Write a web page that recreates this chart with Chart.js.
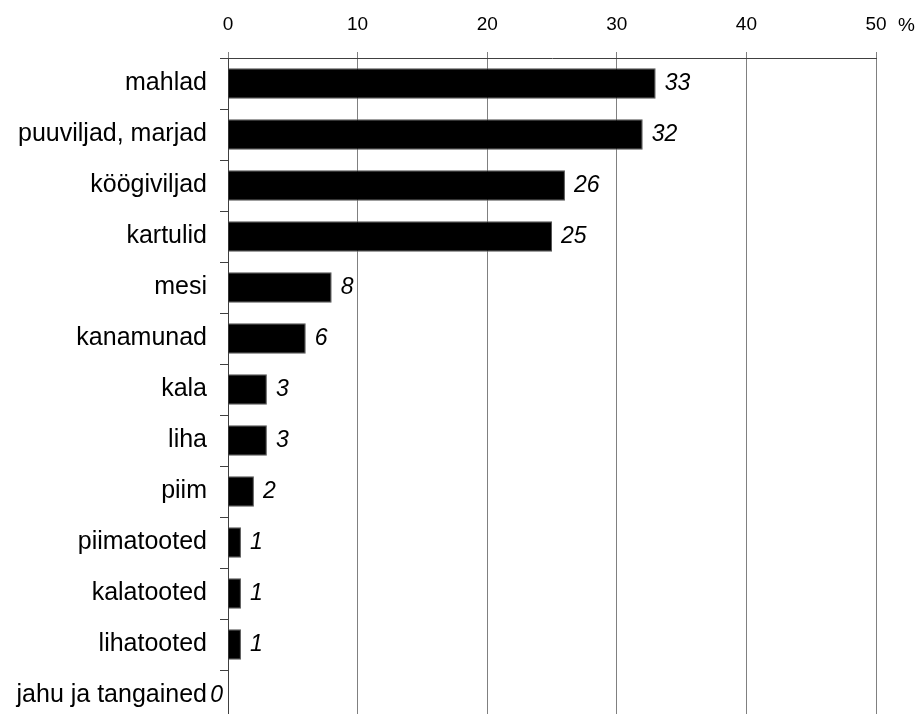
<!DOCTYPE html>
<html>
<head>
<meta charset="utf-8">
<script src="https://cdn.jsdelivr.net/npm/chart.js@4"></script>
<style>
  html, body { margin: 0; padding: 0; background: #fff; overflow: hidden; }
  canvas { display: block; }
</style>
</head>
<body>
<canvas id="myChart" width="920" height="730"></canvas>
<script>
// kategooriad ja väärtused (%)
const categories = ['mahlad', 'puuviljad, marjad', 'köögiviljad', 'kartulid', 'mesi', 'kanamunad', 'kala', 'liha', 'piim', 'piimatooted', 'kalatooted', 'lihatooted', 'jahu ja tangained'];
const values = [33, 32, 26, 25, 8, 6, 3, 3, 2, 1, 1, 1, 0];
const xTicks = [0, 10, 20, 30, 40, 50];

const FONT = 'Arial, "Liberation Sans", sans-serif';

// väärtuste sildid + "%" telje lõppu
const labelPlugin = {
    id: 'labelPlugin',
    afterDatasetsDraw(chart) {
        const ctx = chart.ctx;
        const meta = chart.getDatasetMeta(0);
        ctx.save();
        ctx.fillStyle = '#000';
        ctx.font = 'italic 23px ' + FONT;
        ctx.textBaseline = 'middle';
        meta.data.forEach(function (bar, i) {
            const v = values[i];
            if (v === 0) {
                ctx.textAlign = 'right';
                ctx.fillText(String(v), bar.x - 5, bar.y);
            } else {
                ctx.textAlign = 'left';
                ctx.fillText(String(v), bar.x + 9, bar.y);
            }
        });
        // protsendimärk
        const xs = chart.scales.x;
        ctx.font = '19px ' + FONT;
        ctx.textAlign = 'left';
        ctx.textBaseline = 'alphabetic';
        ctx.fillText('%', xs.getPixelForValue(50) + 22, 31);
        ctx.restore();
    }
};

const ctx = document.getElementById('myChart').getContext('2d');
const myChart = new Chart(ctx, {
    type: 'bar',
    data: {
        labels: categories,
        datasets: [{
            data: values,
            backgroundColor: '#000',
            borderColor: '#555',
            borderWidth: 1,
            barPercentage: 0.6,
            categoryPercentage: 1
        }]
    },
    options: {
        indexAxis: 'y',
        responsive: false,
        animation: false,
        layout: { padding: { top: 0, right: 44, bottom: 9, left: 0 } },
        plugins: {
            legend: { display: false },
            tooltip: { enabled: false }
        },
        scales: {
            x: {
                position: 'top',
                min: 0,
                max: 50,
                afterBuildTicks(scale) {
                    scale.ticks = xTicks.map(function (v) { return { value: v }; });
                },
                afterFit(scale) { scale.height = 58; },
                grid: {
                    color: '#808080',
                    lineWidth: 1,
                    tickLength: 6,
                    drawTicks: true
                },
                border: { display: true, color: '#404040', width: 1 },
                ticks: {
                    color: '#000',
                    font: { family: FONT, size: 19 },
                    padding: 16,
                    maxRotation: 0
                }
            },
            y: {
                afterFit(scale) {
                    scale.width = 228;
                    scale.paddingTop = 0;
                    scale.paddingBottom = 0;
                },
                grid: {
                    drawOnChartArea: false,
                    color: '#404040',
                    tickLength: 8,
                    offset: true
                },
                border: { display: true, color: '#404040', width: 1 },
                ticks: {
                    color: '#000',
                    font: { family: FONT, size: 25 },
                    padding: 13,
                    autoSkip: false
                }
            }
        }
    },
    plugins: [labelPlugin]
});
</script>
</body>
</html>
